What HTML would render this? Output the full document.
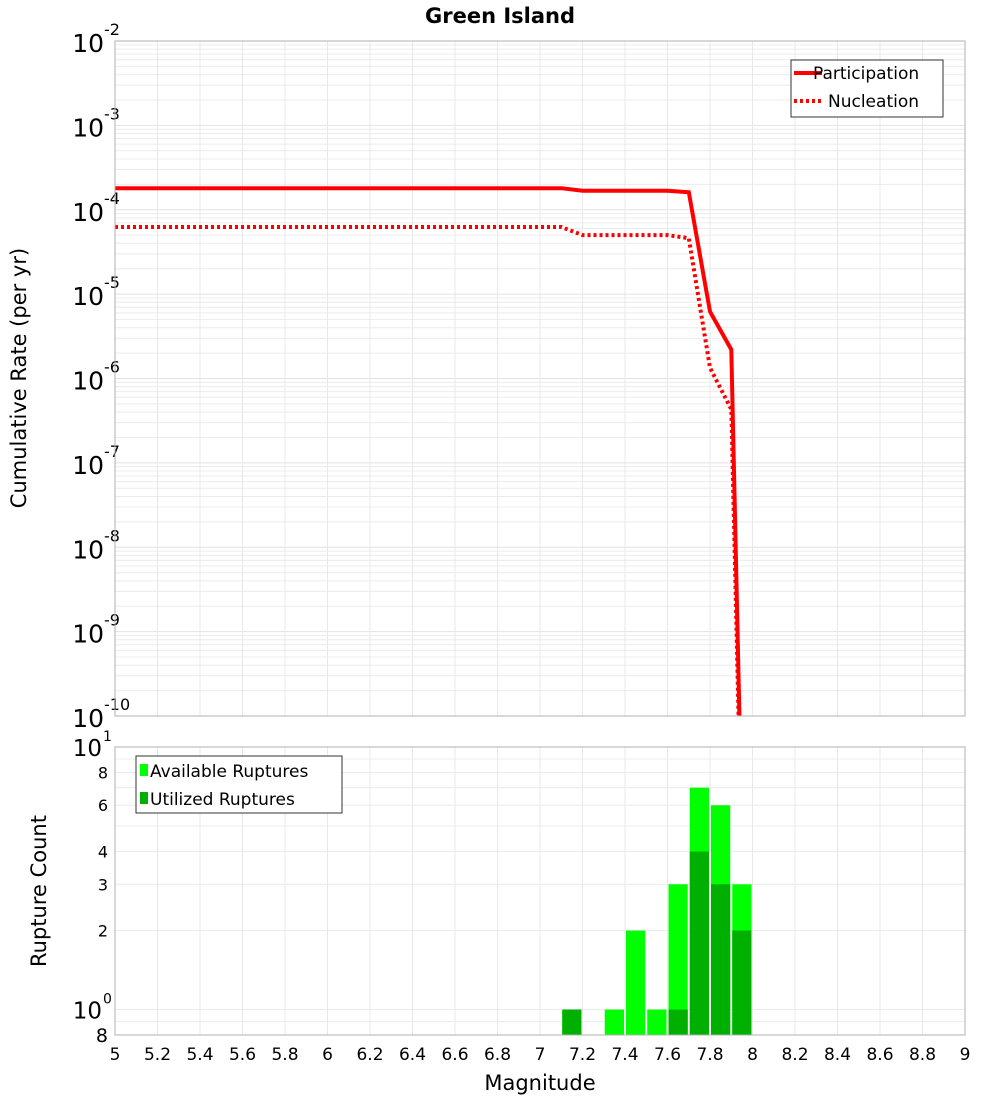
<!DOCTYPE html>
<html><head><meta charset="utf-8"><style>
body{margin:0;background:#fff;font-family:"DejaVu Sans","Liberation Sans",sans-serif}
svg text{font-family:"DejaVu Sans","Liberation Sans",sans-serif}
</style></head><body>
<svg id="c" width="1000" height="1100" xmlns="http://www.w3.org/2000/svg">
<text x="500" y="23" text-anchor="middle" font-size="21" font-weight="bold">Green Island</text>
<g id="top"></g>
<g id="bot"></g>
<text transform="translate(26,378) rotate(-90)" text-anchor="middle" font-size="21">Cumulative Rate (per yr)</text>
<text transform="translate(46,891) rotate(-90)" text-anchor="middle" font-size="21">Rupture Count</text>
<text x="540" y="1090" text-anchor="middle" font-size="21">Magnitude</text>
</svg>
<script>
const mags=[5.0,5.1,5.2,5.3,5.4,5.5,5.6,5.7,5.8,5.9,6.0,6.1,6.2,6.3,6.4,6.5,6.6,6.7,6.8,6.9,7.0,7.1,7.2,7.3,7.4,7.5,7.6,7.7,7.8,7.9,8.0];
const participation=[1.8e-4,1.8e-4,1.8e-4,1.8e-4,1.8e-4,1.8e-4,1.8e-4,1.8e-4,1.8e-4,1.8e-4,1.8e-4,1.8e-4,1.8e-4,1.8e-4,1.8e-4,1.8e-4,1.8e-4,1.8e-4,1.8e-4,1.8e-4,1.8e-4,1.8e-4,1.68e-4,1.68e-4,1.68e-4,1.68e-4,1.68e-4,1.61e-4,6.2e-6,2.2e-6,1e-17];
const nucleation=[6.25e-5,6.25e-5,6.25e-5,6.25e-5,6.25e-5,6.25e-5,6.25e-5,6.25e-5,6.25e-5,6.25e-5,6.25e-5,6.25e-5,6.25e-5,6.25e-5,6.25e-5,6.25e-5,6.25e-5,6.25e-5,6.25e-5,6.25e-5,6.25e-5,6.25e-5,5.0e-5,5.0e-5,5.0e-5,5.0e-5,5.0e-5,4.6e-5,1.34e-6,4.3e-7,1e-17];
const binCenters=[7.15,7.35,7.45,7.55,7.65,7.75,7.85,7.95];
const available=[1,1,2,1,3,7,6,3];
const utilized=[1,0,0,0,1,4,3,2];
const xTicks=[5,5.2,5.4,5.6,5.8,6,6.2,6.4,6.6,6.8,7,7.2,7.4,7.6,7.8,8,8.2,8.4,8.6,8.8,9];
const topExps=[-2,-3,-4,-5,-6,-7,-8,-9,-10];
const botTicks=[2,3,4,6,8];

const NS="http://www.w3.org/2000/svg";
const L=115,R=965,T1=41,B1=716,T2=747,B2=1035;
const X=m=>L+(m-5)*(R-L)/4;
const Y1=v=>T1+(-2-Math.log10(v))*(B1-T1)/8;
const lmin=Math.log10(0.8);
const Y2=v=>B2-(Math.log10(v)-lmin)*(B2-T2)/(1-lmin);
function mk(p,tag,a,txt){const e=document.createElementNS(NS,tag);for(const k in a)e.setAttribute(k,a[k]);if(txt!==undefined)e.textContent=txt;p.appendChild(e);return e;}
const topG=document.getElementById('top'),botG=document.getElementById('bot');
const svgEl=document.getElementById('c');
const defs=mk(svgEl,'defs',{});
const cp=mk(defs,'clipPath',{id:'c1'});mk(cp,'rect',{x:L,y:T1,width:R-L,height:B1-T1});
for(let e=-10;e<-2;e++){for(let k=1;k<10;k++){const y=Y1(k*Math.pow(10,e));
 const g=mk(topG,'line',{x1:L,x2:R,y1:y,y2:y,stroke:k==1?'#e2e2e2':'#ececec','stroke-width':1});
 
 }}
xTicks.forEach(t=>{const x=X(t);
 const g=mk(topG,'line',{x1:x,x2:x,y1:T1,y2:B1,stroke:'#e8e8e8'});
 
 
 const g2=mk(botG,'line',{x1:x,x2:x,y1:T2,y2:B2,stroke:'#e8e8e8'});
 
 
 const tl=mk(svgEl,'text',{x:x,y:1060,'text-anchor':'middle','font-size':17},String(t));
 
 });
topExps.forEach(e=>{const y=Y1(Math.pow(10,e));
 const t=mk(topG,'text',{x:104,y:y+11,'text-anchor':'end','font-size':25},'10');
 
 
 const s=mk(topG,'text',{x:104,y:y-6,'font-size':16},String(e));
 
 });
function line(arr,dash,name){let d='';arr.forEach((v,i)=>{d+=(i?'L':'M')+X(mags[i]).toFixed(1)+','+Y1(v).toFixed(1);});
 const p=mk(topG,'path',{d:d,fill:'none',stroke:'#ff0000','stroke-width':4,'clip-path':'url(#c1)'});
 if(dash)p.setAttribute('stroke-dasharray','3,3');
 
 }
line(participation,false,'participation-line');
line(nucleation,true,'nucleation-line');
mk(topG,'rect',{x:L,y:T1,width:R-L,height:B1-T1,fill:'none',stroke:'#b0b0b0'});
const lg=mk(topG,'g',{});


mk(lg,'rect',{x:791,y:60,width:152,height:57,fill:'#fff',stroke:'#333'});
mk(lg,'line',{x1:794,x2:822,y1:73,y2:73,stroke:'#f00','stroke-width':4});
mk(lg,'text',{x:813,y:79,'font-size':17},'Participation');
mk(lg,'line',{x1:794,x2:822,y1:101,y2:101,stroke:'#f00','stroke-width':4,'stroke-dasharray':'3,3'});
mk(lg,'text',{x:828,y:107,'font-size':17},'Nucleation');
const minor=[0.8,0.9,1,2,3,4,5,6,7,8,9,10];
minor.forEach(v=>{const y=Y2(v);const g=mk(botG,'line',{x1:L,x2:R,y1:y,y2:y,stroke:'#ececec'});
 
 });
botTicks.forEach(v=>{const t=mk(botG,'text',{x:108,y:Y2(v)+6,'text-anchor':'end','font-size':16},String(v));
 
 });
[1,10].forEach(v=>{const y=Y2(v);
 const t=mk(botG,'text',{x:102,y:y+9,'text-anchor':'end','font-size':23},'10');
 
 
 const s=mk(botG,'text',{x:103,y:y-6,'font-size':14},v==1?'0':'1');
 
 });
const t8=mk(botG,'text',{x:108,y:1042,'text-anchor':'end','font-size':19},'8');


const bw=(R-L)/40;
binCenters.forEach((c,i)=>{const x=X(c)-bw/2+1;
 if(available[i]>0){const r=mk(botG,'rect',{x:x,y:Y2(available[i]),width:bw-2,height:B2-Y2(available[i]),fill:'#00ff00'});
  
  }
 if(utilized[i]>0){const r=mk(botG,'rect',{x:x,y:Y2(utilized[i]),width:bw-2,height:B2-Y2(utilized[i]),fill:'#00b000'});
  
  }});
mk(botG,'rect',{x:L,y:T2,width:R-L,height:B2-T2,fill:'none',stroke:'#b0b0b0'});
const lg2=mk(botG,'g',{});


mk(lg2,'rect',{x:136,y:756,width:206,height:57,fill:'#fff',stroke:'#333'});
mk(lg2,'rect',{x:140,y:764,width:8,height:12,fill:'#00ff00'});
mk(lg2,'text',{x:150,y:777,'font-size':17},'Available Ruptures');
mk(lg2,'rect',{x:140,y:792,width:8,height:12,fill:'#00b000'});
mk(lg2,'text',{x:150,y:805,'font-size':17},'Utilized Ruptures');
</script>
</body></html>
